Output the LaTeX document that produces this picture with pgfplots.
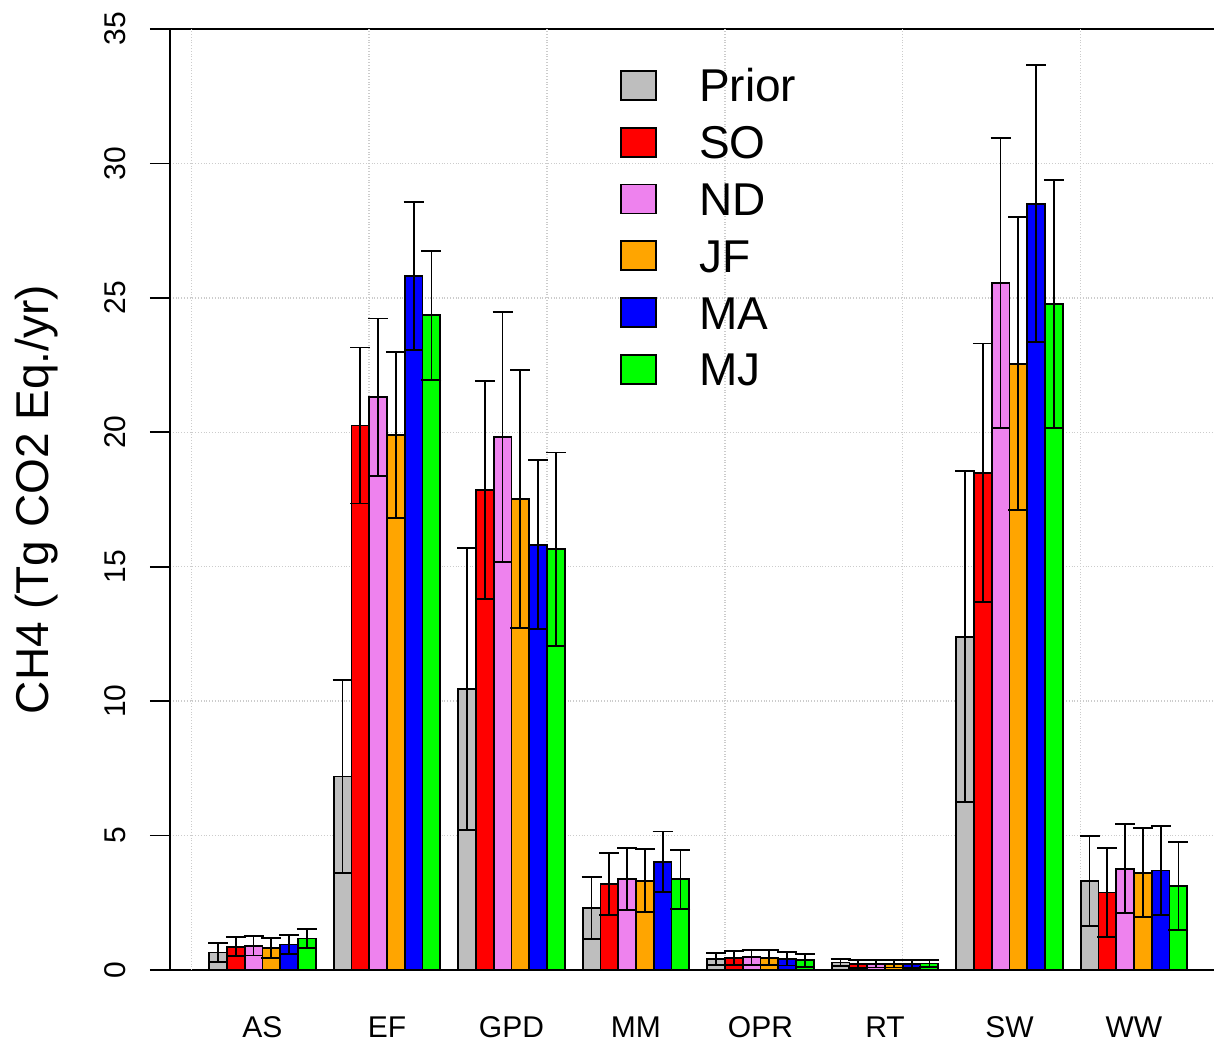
\documentclass[border=0pt]{standalone}
\usepackage{pgfplots}
\pgfplotsset{compat=1.18}
\usepackage{fontspec}
\setmainfont{Liberation Sans}

\definecolor{cPrior}{RGB}{190,190,190}
\definecolor{cSO}{RGB}{255,0,0}
\definecolor{cND}{RGB}{238,130,238}
\definecolor{cJF}{RGB}{255,165,0}
\definecolor{cMA}{RGB}{0,0,255}
\definecolor{cMJ}{RGB}{0,255,0}

\pgfplotsset{
    errs/.style={
        error bars/.cd,
        y dir=both, y explicit,
        error bar style={black, solid, line width=0.9pt},
        error mark=|,
        error mark options={black, solid, mark size=5pt, line width=0.9pt},
    },
}

\begin{document}
\begin{tikzpicture}
\begin{axis}[
    name=ax,
    scale only axis,
    width=522pt, height=470.5pt,
    xmin=-1.2, xmax=57.5,
    ymin=0, ymax=35,
    axis x line*=box, axis y line*=left,
    axis line style={black, line width=1pt},
    ybar, bar width=1,
    every axis plot/.append style={bar shift=0pt, draw=black, line width=0.9pt},
    xtick={4,11,18,25,32,39,46,53},
    xticklabels={AS,EF,GPD,MM,OPR,RT,SW,WW},
    xtick style={draw=none},
    xticklabel style={font=\fontsize{15}{18}\selectfont, inner sep=0pt},
    xticklabel shift=13pt,
    extra x ticks={0,10,20,30,40,50},
    extra x tick labels={},
    extra x tick style={xmajorgrids=true, major tick length=0pt},
    ytick={0,5,10,15,20,25,30,35},
    ymajorgrids=true,
    grid style={densely dotted, black!20, line width=0.7pt},
    tick align=outside,
    major tick length=10pt,
    ytick style={black, line width=0.8pt},
    yticklabel style={rotate=90, anchor=south, font=\fontsize{15}{18}\selectfont},
    yticklabel shift=8.5pt,
    /pgf/number format/assume math mode=true,
    ylabel={CH4 (Tg CO2 Eq./yr)},
    ylabel style={at={(axis description cs:-0.1275,0.5)}, rotate=0, anchor=center,
        font=\fontsize{23}{27}\selectfont},
    legend style={at={(axis description cs:0.431,0.9633)}, anchor=north west,
        draw=none, fill=none, inner sep=0pt,
        font=\fontsize{23}{27}\selectfont,
        nodes={text height=17pt, text depth=0pt, inner sep=2pt},
        row sep=7.4pt,
        /tikz/every odd column/.append style={column sep=19pt}},
    legend cell align=left,
    legend image code/.code={\draw[#1, draw=black, line width=0.9pt] (0pt,-7.5pt) rectangle (17.5pt,7pt);},
]
\addplot[fill=cPrior, errs] coordinates {
    (1.5,0.65) +- (0,0.35) (8.5,7.2) +- (0,3.6) (15.5,10.45) +- (0,5.25) (22.5,2.3) +- (0,1.15)
    (29.5,0.40) +- (0,0.22) (36.5,0.28) +- (0,0.12) (43.5,12.4) +- (0,6.15) (50.5,3.3) +- (0,1.67)};
\addplot[fill=cSO, errs] coordinates {
    (2.5,0.87) +- (0,0.36) (9.5,20.25) +- (0,2.9) (16.5,17.85) +- (0,4.05) (23.5,3.2) +- (0,1.14)
    (30.5,0.45) +- (0,0.25) (37.5,0.22) +- (0,0.14) (44.5,18.5) +- (0,4.8) (51.5,2.88) +- (0,1.65)};
\addplot[fill=cND, errs] coordinates {
    (3.5,0.9) +- (0,0.36) (10.5,21.3) +- (0,2.93) (17.5,19.82) +- (0,4.65) (24.5,3.38) +- (0,1.15)
    (31.5,0.47) +- (0,0.27) (38.5,0.23) +- (0,0.14) (45.5,25.55) +- (0,5.4) (52.5,3.77) +- (0,1.66)};
\addplot[fill=cJF, errs] coordinates {
    (4.5,0.82) +- (0,0.38) (11.5,19.9) +- (0,3.1) (18.5,17.52) +- (0,4.8) (25.5,3.32) +- (0,1.17)
    (32.5,0.46) +- (0,0.27) (39.5,0.23) +- (0,0.14) (46.5,22.55) +- (0,5.45) (53.5,3.62) +- (0,1.66)};
\addplot[fill=cMA, errs] coordinates {
    (5.5,0.95) +- (0,0.35) (12.5,25.8) +- (0,2.75) (19.5,15.82) +- (0,3.15) (26.5,4.02) +- (0,1.13)
    (33.5,0.42) +- (0,0.25) (40.5,0.22) +- (0,0.14) (47.5,28.5) +- (0,5.15) (54.5,3.7) +- (0,1.65)};
\addplot[fill=cMJ, errs] coordinates {
    (6.5,1.17) +- (0,0.35) (13.5,24.35) +- (0,2.4) (20.5,15.65) +- (0,3.6) (27.5,3.37) +- (0,1.1)
    (34.5,0.36) +- (0,0.24) (41.5,0.24) +- (0,0.14) (48.5,24.77) +- (0,4.6) (55.5,3.13) +- (0,1.63)};
\legend{Prior,SO,ND,JF,MA,MJ}
\end{axis}
\pgfresetboundingbox
\path[use as bounding box] ([xshift=-85pt,yshift=-35.5pt]ax.south west) rectangle ([yshift=14.5pt]ax.north east);
\end{tikzpicture}
\end{document}
